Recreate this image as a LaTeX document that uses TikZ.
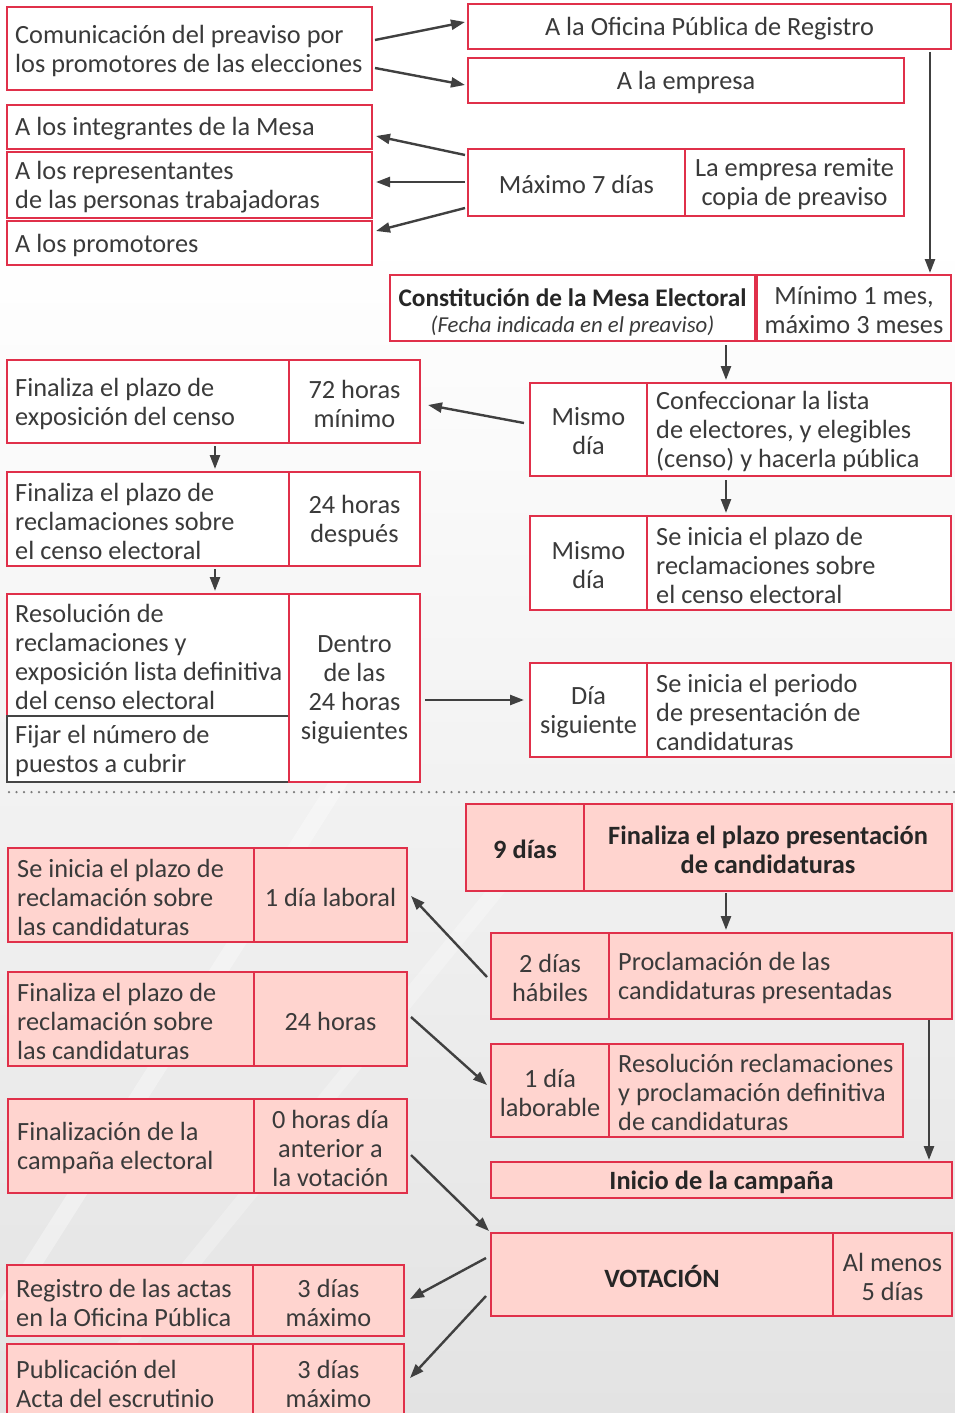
\documentclass[tikz,border=0pt]{standalone}
\usepackage{fontspec}
\setmainfont{Carlito}
\usetikzlibrary{arrows.meta}
\definecolor{bred}{HTML}{E0304A}
\definecolor{bpink}{HTML}{FFD4CF}
\definecolor{tcol}{HTML}{3A3A3A}
\definecolor{acol}{HTML}{404040}
\definecolor{bgray}{HTML}{E3E3E3}
\definecolor{fgray}{HTML}{444444}
\definecolor{dcol}{HTML}{7A7A7A}
\newcommand{\mkcell}[6][]{%
  \pgfmathsetmacro\cw{#5-#3}\pgfmathsetmacro\ch{#6-#4}%
  \node[cellbox,#1,minimum width=\cw pt,minimum height=\ch pt] (#2) at (#3,#4) {};}
\tikzset{
  cellbox/.style={draw=bred,line width=1.3pt,fill=white,inner sep=0pt,outer sep=0pt,anchor=north west},
  pinkbox/.style={fill=bpink},
  lt/.style={anchor=west,align=left,inner sep=0pt,yshift=-2pt,text=tcol,font=\fontsize{26.3}{29}\selectfont},
  ct/.style={anchor=center,align=center,inner sep=0pt,yshift=-2pt,text=tcol,font=\fontsize{26.3}{29}\selectfont},
  bt/.style={anchor=center,align=center,inner sep=0pt,yshift=-2pt,text=black!85,font=\bfseries\fontsize{26.4}{29}\selectfont},
  arw/.style={draw=acol,line width=2.4pt,-{Triangle[length=14pt,width=10pt]}},
}
\begin{document}
\begin{tikzpicture}[x=1pt,y=-1pt]
\useasboundingbox (0,0) rectangle (955,1413);
\clip (0,0) rectangle (955,1413);
\fill[white] (0,0) rectangle (955,1413);
\shade[top color=white,bottom color=bgray] (0,240) rectangle (955,1413);
\fill[white,opacity=0.35] (0,1300) -- (330,780) -- (350,780) -- (20,1300) -- cycle;
\fill[white,opacity=0.25] (60,1413) -- (560,800) -- (580,800) -- (80,1413) -- cycle;
% ---------------- top section
\mkcell{com}{7}{7}{372}{90}
\node[lt] (comt) at ([xshift=8pt]com.west) {Comunicación del preaviso por\\los promotores de las elecciones};
\mkcell{ofi}{468}{4}{951}{49}
\node[ct] (ofit) at (ofi.center) {A la Oficina Pública de Registro};
\mkcell{emp}{468}{58}{904}{103}
\node[ct] (empt) at (emp.center) {A la empresa};
\mkcell{int}{7}{105}{372}{149}
\node[lt] (intt) at ([xshift=8pt]int.west) {A los integrantes de la Mesa};
\mkcell{rep}{7}{152}{372}{218}
\node[lt] (rept) at ([xshift=8pt]rep.west) {A los representantes\\de las personas trabajadoras};
\mkcell{pro}{7}{221}{372}{265}
\node[lt] (prot) at ([xshift=8pt]pro.west) {A los promotores};
\mkcell{max}{468}{149}{685}{216}
\node[ct] (maxt) at (max.center) {Máximo 7 días};
\mkcell{rem}{685}{149}{904}{216}
\node[ct] (remt) at (rem.center) {La empresa remite\\copia de preaviso};
\mkcell{cons}{390}{275}{755}{341}
\node[bt,font=\bfseries\fontsize{25.3}{29}\selectfont,yshift=12pt] (const) at (cons.center) {Constitución de la Mesa Electoral};
\node[ct,font=\itshape\fontsize{22.8}{26}\selectfont,yshift=-16pt] (consi) at (cons.center) {(Fecha indicada en el preaviso)};
\mkcell{mn}{757}{275}{951}{341}
\node[ct] (mnt) at (mn.center) {Mínimo 1 mes,\\máximo 3 meses};
\mkcell{mis1}{530}{383}{647}{476}
\node[ct] (mis1t) at (mis1.center) {Mismo\\día};
\mkcell{conf}{647}{383}{951}{476}
\node[lt] (conft) at ([xshift=9pt]conf.west) {Confeccionar la lista\\de electores, y elegibles\\(censo) y hacerla pública};
\mkcell{mis2}{530}{516}{647}{610}
\node[ct] (mis2t) at (mis2.center) {Mismo\\día};
\mkcell{sein}{647}{516}{951}{610}
\node[lt] (seint) at ([xshift=9pt]sein.west) {Se inicia el plazo de\\reclamaciones sobre\\el censo electoral};
\mkcell{dia}{530}{663}{647}{757}
\node[ct] (diat) at (dia.center) {Día\\siguiente};
\mkcell{per}{647}{663}{951}{757}
\node[lt] (pert) at ([xshift=9pt]per.west) {Se inicia el periodo\\de presentación de\\candidaturas};
\mkcell{fin1}{7}{360}{289}{443}
\node[lt] (fin1t) at ([xshift=8pt]fin1.west) {Finaliza el plazo de\\exposición del censo};
\mkcell{h72}{289}{360}{420}{443}
\node[ct] (h72t) at (h72.center) {72 horas\\mínimo};
\mkcell{fin2}{7}{472}{289}{566}
\node[lt] (fin2t) at ([xshift=8pt]fin2.west) {Finaliza el plazo de\\reclamaciones sobre\\el censo electoral};
\mkcell{h24d}{289}{472}{420}{566}
\node[ct] (h24dt) at (h24d.center) {24 horas\\después};
\mkcell{res}{7}{594}{289}{716}
\node[lt] (rest) at ([xshift=8pt]res.west) {Resolución de\\reclamaciones y\\exposición lista definitiva\\del censo electoral};
\mkcell[draw=fgray]{fij}{7}{716}{289}{782}
\node[lt] (fijt) at ([xshift=8pt]fij.west) {Fijar el número de\\puestos a cubrir};
\mkcell{dentro}{289}{594}{420}{782}
\node[ct] (dentrot) at (dentro.center) {Dentro\\de las\\24 horas\\siguientes};
% arrows top
\draw[arw] ([shift={(3,-8.5)}]com.east) -- ([shift={(-3,-4.5)}]ofi.west);
\draw[arw] ([shift={(3,19.5)}]com.east) -- ([shift={(-3,4.5)}]emp.west);
\draw[arw] ([shift={(-3,-27.5)}]max.west) -- ([shift={(4,9)}]int.east);
\draw[arw] ([shift={(-3,-0.5)}]max.west) -- ([shift={(4,-3)}]rep.east);
\draw[arw] ([shift={(-3,25.5)}]max.west) -- ([shift={(4,-12)}]pro.east);
\draw[arw] ([shift={(220.5,3)}]ofi.south) -- ([shift={(76,-2)}]mn.north);
\draw[arw] ([shift={(153.5,4)}]cons.south) -- ([shift={(-73,-3)}]conf.north);
\draw[arw] ([shift={(-6,-6.5)}]mis1.west) -- ([shift={(8,3.5)}]h72.east);
\draw[arw] ([shift={(-73,4)}]conf.south) -- ([shift={(-73,-3)}]sein.north);
\draw[arw] ([shift={(5,12)}]dentro.east) -- ([shift={(-6,-10)}]dia.west);
\draw[arw] ([shift={(67,3)}]fin1.south) -- ([shift={(67,-3)}]fin2.north);
\draw[arw] ([shift={(67,3)}]fin2.south) -- ([shift={(67,-3)}]res.north);
% separator
\draw[dcol,line width=2.5pt,line cap=round,dash pattern=on 0pt off 7.5pt] (9,792) -- (955,792);
% ---------------- bottom section
\mkcell[pinkbox]{nueve}{466}{804}{584}{891}
\node[bt] (nuevet) at (nueve.center) {9 días};
\mkcell[pinkbox]{finp}{584}{804}{952}{891}
\node[bt] (finpt) at (finp.center) {Finaliza el plazo presentación\\de candidaturas};
\mkcell[pinkbox]{dos}{491}{933}{609}{1019}
\node[ct] (dost) at (dos.center) {2 días\\hábiles};
\mkcell[pinkbox]{proc}{609}{933}{952}{1019}
\node[lt] (proct) at ([xshift=9pt]proc.west) {Proclamación de las\\candidaturas presentadas};
\mkcell[pinkbox]{uno}{491}{1044}{609}{1137}
\node[ct] (unot) at (uno.center) {1 día\\laborable};
\mkcell[pinkbox]{resr}{609}{1044}{903}{1137}
\node[lt] (resrt) at ([xshift=9pt]resr.west) {Resolución reclamaciones\\y proclamación definitiva\\de candidaturas};
\mkcell[pinkbox]{ini}{491}{1162}{952}{1198}
\node[bt] (init) at (ini.center) {Inicio de la campaña};
\mkcell[pinkbox]{sei}{8}{848}{254}{942}
\node[lt] (seit) at ([xshift=9pt]sei.west) {Se inicia el plazo de\\reclamación sobre\\las candidaturas};
\mkcell[pinkbox]{lab}{254}{848}{407}{942}
\node[ct] (labt) at (lab.center) {1 día laboral};
\mkcell[pinkbox]{finr}{8}{972}{254}{1066}
\node[lt] (finrt) at ([xshift=9pt]finr.west) {Finaliza el plazo de\\reclamación sobre\\las candidaturas};
\mkcell[pinkbox]{h24}{254}{972}{407}{1066}
\node[ct] (h24t) at (h24.center) {24 horas};
\mkcell[pinkbox]{finc}{8}{1099}{254}{1193}
\node[lt] (finct) at ([xshift=9pt]finc.west) {Finalización de la\\campaña electoral};
\mkcell[pinkbox]{cero}{254}{1099}{407}{1193}
\node[ct] (cerot) at (cero.center) {0 horas día\\anterior a\\la votación};
\mkcell[pinkbox]{vot}{491}{1233}{833}{1316}
\node[bt] (vott) at (vot.center) {VOTACIÓN};
\mkcell[pinkbox]{alm}{833}{1233}{952}{1316}
\node[ct] (almt) at (alm.center) {Al menos\\5 días};
\mkcell[pinkbox]{reg}{7}{1265}{253}{1336}
\node[lt] (regt) at ([xshift=9pt]reg.west) {Registro de las actas\\en la Oficina Pública};
\mkcell[pinkbox]{reg3}{253}{1265}{404}{1336}
\node[ct] (reg3t) at (reg3.center) {3 días\\máximo};
\mkcell[pinkbox]{pub}{7}{1344}{253}{1420}
\node[lt] (pubt) at ([xshift=9pt]pub.west) {Publicación del\\Acta del escrutinio};
\mkcell[pinkbox]{pub3}{253}{1344}{404}{1420}
\node[ct] (pub3t) at (pub3.center) {3 días\\máximo};
% arrows bottom
\draw[arw] ([shift={(-42,2)}]finp.south) -- ([shift={(-54.5,-3)}]proc.north);
\draw[arw] ([shift={(148.5,1)}]proc.south) -- ([shift={(207.5,-2)}]ini.north);
\draw[arw] ([shift={(-4,1)}]dos.west) -- ([shift={(4,1)}]lab.east);
\draw[arw] ([shift={(4,-2)}]h24.east) -- ([shift={(-4,-5.5)}]uno.west);
\draw[arw] ([shift={(4,9)}]cero.east) -- ([shift={(-2,-2)}]vot.north west);
\draw[arw] ([shift={(-5,-16.5)}]vot.west) -- ([shift={(6,-1.5)}]reg3.east);
\draw[arw] ([shift={(-5,21.5)}]vot.west) -- ([shift={(6,-4)}]pub3.east);
\end{tikzpicture}
\end{document}
